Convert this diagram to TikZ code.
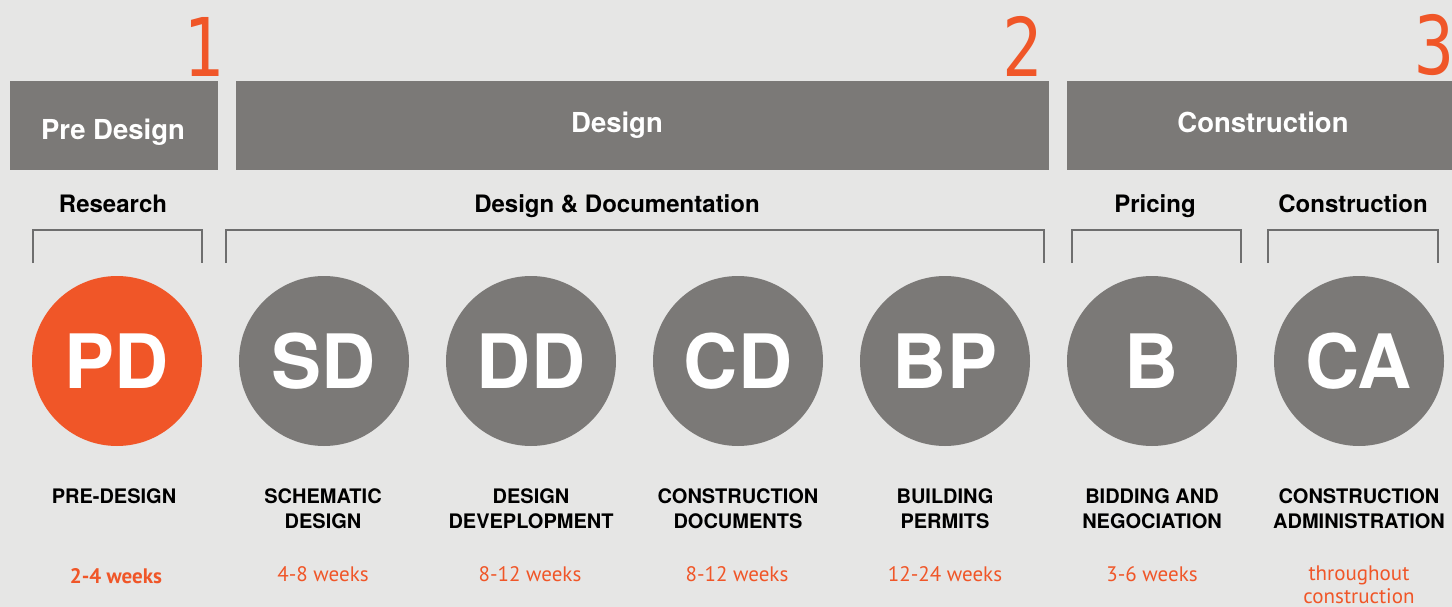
\documentclass[tikz,border=0pt]{standalone}
\usepackage{fontspec}
\setmainfont{TeX Gyre Heros}
\newfontfamily\numfont{DejaVu Sans Mono}
\newfontfamily\weekfont{PT Sans}
\definecolor{bgc}{HTML}{E6E6E5}
\definecolor{barc}{HTML}{7B7977}
\definecolor{orc}{HTML}{F05628}
\definecolor{brc}{HTML}{6E6E6E}
\tikzset{
  bar/.style={fill=barc, draw=none, inner sep=0pt},
  bartext/.style={text=white, font=\fontsize{27.5}{30}\selectfont\bfseries, inner sep=0pt, anchor=base},
  num/.style={text=orc, font=\numfont\fontsize{81}{81}\selectfont, inner sep=0pt, anchor=base east, xscale=0.82},
  sub/.style={text=black, font=\fontsize{24}{26}\selectfont\bfseries, inner sep=0pt, anchor=base},
  brk/.style={draw=brc, line width=1.2pt},
  circ/.style={circle, minimum size=170pt, inner sep=0pt, text=white, font=\fontsize{75}{75}\selectfont\bfseries, fill=barc},
  lbl/.style={text=black, font=\fontsize{20}{25}\selectfont\bfseries, align=center, inner sep=0pt, anchor=base},
  wk/.style={text=orc, font=\weekfont\fontsize{21}{24}\selectfont, align=center, inner sep=0pt, anchor=base}
}
\begin{document}
\begin{tikzpicture}[x=1pt,y=-1pt]
\fill[bgc] (0,0) rectangle (1452,607);
\useasboundingbox (0,0) rectangle (1452,607);
% numbers
\node[num] (n1) at (224,77) {1};
\node[num] (n2) at (1043,77) {2};
\node[num] (n3) at (1455,75) {3};
% phase bars
\node[bar, minimum width=208pt, minimum height=89pt] (barPD) at (114,125.5) {};
\node[bar, minimum width=813pt, minimum height=89pt] (barD) at (642.5,125.5) {};
\node[bar, minimum width=390pt, minimum height=89pt] (barC) at (1262,125.5) {};
\node[bartext] (tPD) at (113,139.5) {Pre Design};
\node[bartext] (tD) at (617,133) {Design};
\node[bartext] (tC) at (1263,133) {Construction};
% sub headings
\node[sub] (sR) at (113,212) {Research};
\node[sub] (sD) at (617,212) {Design \& Documentation};
\node[sub] (sP) at (1155,212) {Pricing};
\node[sub] (sC) at (1353,212) {Construction};
% brackets
\coordinate (r1) at (33,263); \coordinate (r2) at (33,230); \coordinate (r3) at (202,230); \coordinate (r4) at (202,263);
\draw[brk] (r1) -- (r2) -- (r3) -- (r4);
\coordinate (d1) at (226,263); \coordinate (d2) at (226,230); \coordinate (d3) at (1044,230); \coordinate (d4) at (1044,263);
\draw[brk] (d1) -- (d2) -- (d3) -- (d4);
\coordinate (p1) at (1072,263); \coordinate (p2) at (1072,230); \coordinate (p3) at (1241,230); \coordinate (p4) at (1241,263);
\draw[brk] (p1) -- (p2) -- (p3) -- (p4);
\coordinate (c1) at (1268,263); \coordinate (c2) at (1268,230); \coordinate (c3) at (1438,230); \coordinate (c4) at (1438,263);
\draw[brk] (c1) -- (c2) -- (c3) -- (c4);
% circles
\node[circ, fill=orc] (PD) at (117,361) {PD};
\node[circ] (SD) at (324,361) {SD};
\node[circ] (DD) at (531,361) {DD};
\node[circ] (CD) at (738,361) {CD};
\node[circ] (BP) at (945,361) {BP};
\node[circ] (B) at (1152,361) {B};
\node[circ] (CA) at (1359,361) {CA};
% labels (base = last line)
\node[lbl] (lPD) at (114,503) {PRE-DESIGN};
\node[lbl] (lSD) at (323,528) {SCHEMATIC\\DESIGN};
\node[lbl] (lDD) at (531,528) {DESIGN\\DEVEPLOPMENT};
\node[lbl] (lCD) at (738,528) {CONSTRUCTION\\DOCUMENTS};
\node[lbl] (lBP) at (945,528) {BUILDING\\PERMITS};
\node[lbl] (lB) at (1152,528) {BIDDING AND\\NEGOCIATION};
\node[lbl] (lCA) at (1359,528) {CONSTRUCTION\\ADMINISTRATION};
% durations
\node[wk, font=\weekfont\bfseries\fontsize{21}{24}\selectfont] (wPD) at (116,583) {2-4 weeks};
\node[wk] (wSD) at (323,581) {4-8 weeks};
\node[wk] (wDD) at (530,581) {8-12 weeks};
\node[wk] (wCD) at (737,581) {8-12 weeks};
\node[wk] (wBP) at (945,581) {12-24 weeks};
\node[wk] (wB) at (1152,581) {3-6 weeks};
\node[wk, font=\weekfont\fontsize{21}{22.5}\selectfont] (wCA) at (1359,603) {throughout\\construction};
\end{tikzpicture}
\end{document}
